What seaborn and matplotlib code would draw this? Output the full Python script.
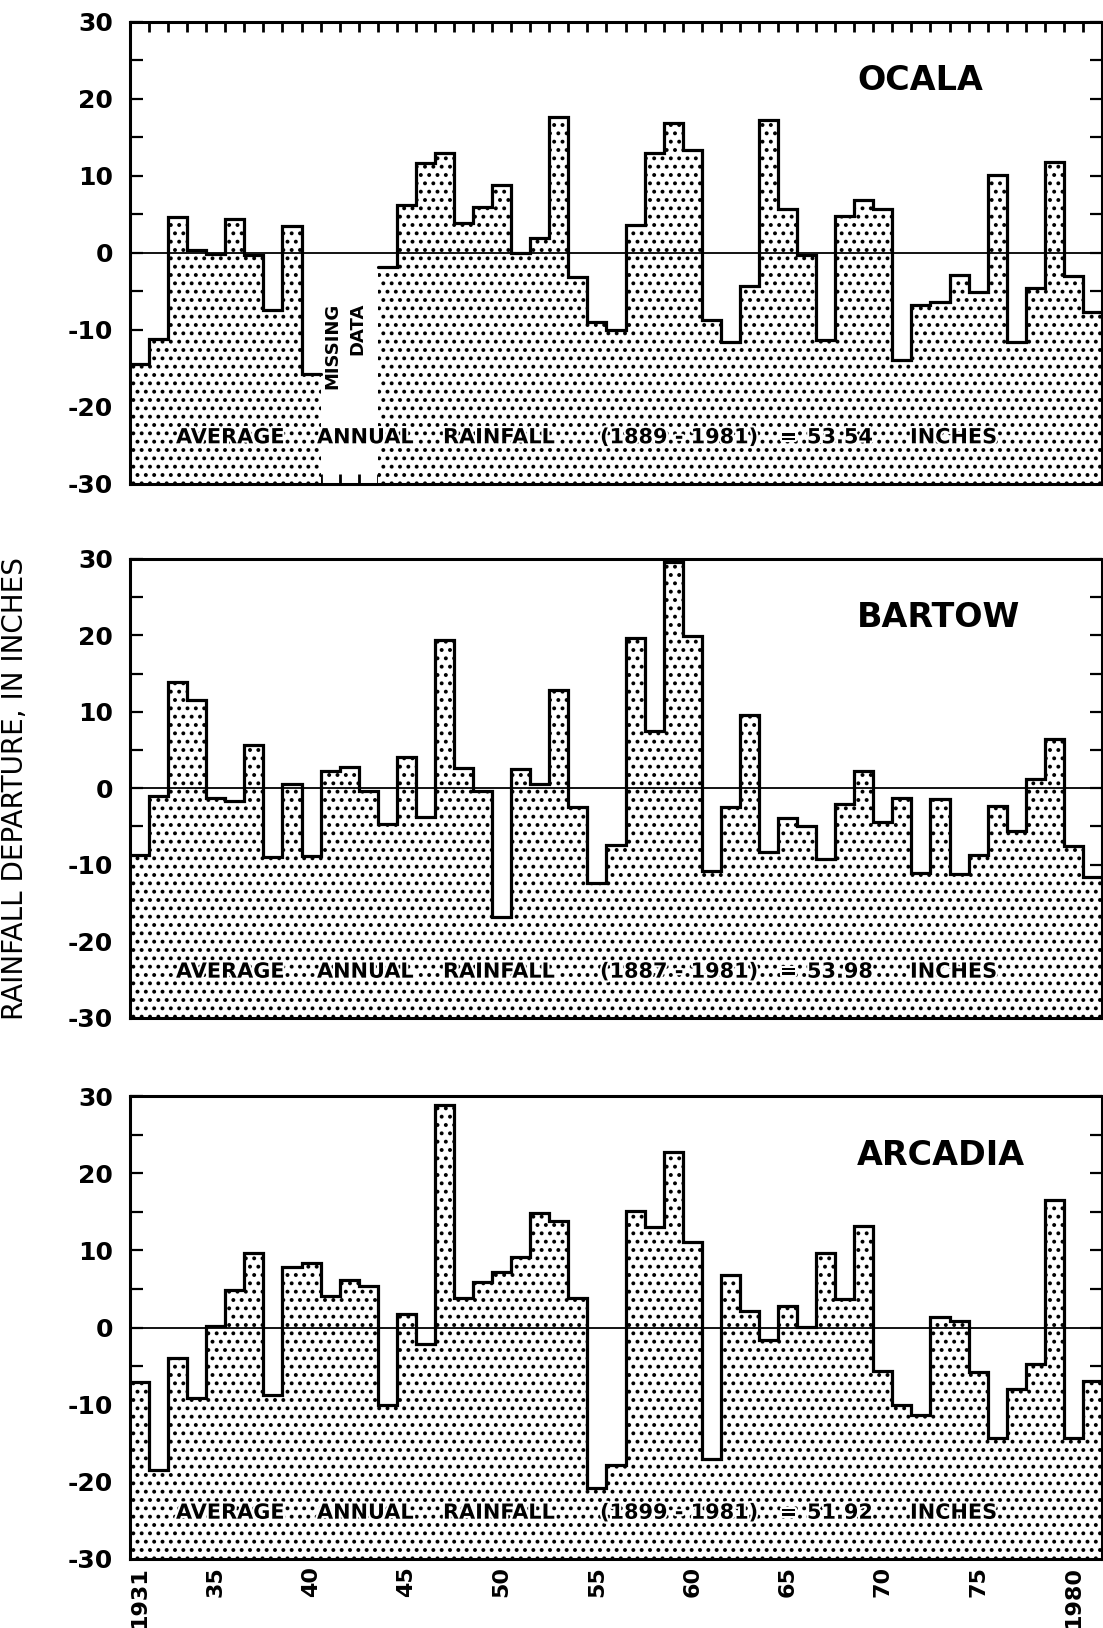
import numpy as np
import pandas as pd
import matplotlib
matplotlib.use('Agg')
import matplotlib.pyplot as plt
import matplotlib.patheffects as pe
import seaborn as sns

# %%
# annual rainfall departure (inches), 1931-1981
years = list(range(1931, 1982))
nan = np.nan

ocala = [-14.5, -11.2, 4.6, 0.3, -0.2, 4.3, -0.3, -7.5, 3.5, -15.8,
         nan, nan, nan, -1.9, 6.2, 11.6, 12.9, 3.8, 5.9, 8.8,
         0.0, 1.9, 17.6, -3.2, -9.0, -10.1, 3.6, 12.9, 16.8, 13.3,
         -8.8, -11.6, -4.3, 17.2, 5.6, -0.3, -11.4, 4.7, 6.8, 5.6,
         -14.0, -6.8, -6.4, -2.9, -5.1, 10.1, -11.6, -4.6, 11.8, -3.0, -7.7]

bartow = [-8.7, -1.0, 13.9, 11.6, -1.3, -1.7, 5.6, -9.0, 0.5, -8.9,
          2.3, 2.8, -0.4, -4.7, 4.1, -3.8, 19.4, 2.6, -0.3, -16.8,
          2.5, 0.6, 12.9, -2.5, -12.4, -7.4, 19.7, 7.5, 29.6, 19.9,
          -10.8, -2.4, 9.6, -8.3, -3.9, -5.0, -9.2, -2.1, 2.3, -4.4,
          -1.3, -11.1, -1.4, -11.2, -8.7, -2.3, -5.6, 1.2, 6.5, -7.5, -11.6]

arcadia = [-7.0, -18.5, -3.9, -9.2, 0.2, 4.9, 9.7, -8.7, 7.8, 8.4,
           4.1, 6.1, 5.4, -10.0, 1.7, -2.2, 28.8, 3.8, 5.9, 7.2,
           9.2, 14.9, 13.8, 3.8, -20.8, -17.8, 15.1, 13.0, 22.8, 11.1,
           -17.1, 6.8, 2.2, -1.6, 2.8, 0.1, 9.7, 3.7, 13.2, -5.7,
           -10.0, -11.4, 1.3, 0.8, -5.8, -14.3, -8.0, -4.7, 16.5, -14.3, -6.9]

stations = ['OCALA', 'BARTOW', 'ARCADIA']
periods = ['(1889 - 1981)', '(1887 - 1981)', '(1899 - 1981)']
averages = ['53.54', '53.98', '51.92']
xtick_years = [1931, 1935, 1940, 1945, 1950, 1955, 1960, 1965, 1970, 1975, 1980]
xtick_labels = ['1931', '35', '40', '45', '50', '55', '60', '65', '70', '75', '1980']
ytick_vals = [30, 20, 10, 0, -10, -20, -30]
ytick_labels = ['30', '20', '10', '0', '-10', '-20', '-30']

# %%
sns.set_style('ticks')
plt.rcParams['font.family'] = ['DejaVu Sans']
plt.rcParams['hatch.linewidth'] = 1.6
plt.rcParams['hatch.color'] = 'black'
for key in ['text.color', 'axes.labelcolor', 'xtick.color', 'ytick.color', 'axes.edgecolor']:
    plt.rcParams[key] = 'black'

W, H = 1103, 1628
fig = plt.figure(figsize=(W / 100, H / 100), dpi=100)

# panel boxes in pixels: (top, bottom)
boxes = [(21.5, 483.5), (559, 1017.5), (1096, 1559)]
left_px, right_px = 130, 1102
bar_px = (right_px - left_px) / len(years)

def px2x(px):
    return years[0] - 0.5 + (px - left_px) / bar_px

word_px = [176, 317, 443, 600, 780, 807, 910]

for k, vals in enumerate([ocala, bartow, arcadia]):
    top, bot = boxes[k]
    ax = fig.add_axes([left_px / W, 1 - bot / H, (right_px - left_px) / W, (bot - top) / H])
    df = pd.DataFrame({'year': years, 'dep': vals})
    df['height'] = df['dep'] + 30

    # stippled columns from the -30 floor up to the departure
    sns.barplot(data=df, x='year', y='height', native_scale=True, width=1,
                bottom=-30, color='white', edgecolor='black', hatch='..',
                linewidth=0, errorbar=None, ax=ax, zorder=1)

    # stepped outline
    edges = np.append(np.array(years) - 0.5, years[-1] + 0.5)
    ax.plot(edges, np.append(df['dep'].values, df['dep'].values[-1]),
            drawstyle='steps-post', color='black', lw=2.3, zorder=4,
            solid_joinstyle='miter')
    ax.axhline(0, color='black', lw=1.3, zorder=3)

    ax.set_xlim(years[0] - 0.5, years[-1] + 0.5)
    ax.set_ylim(-30, 30)

    # y ticks every 5 in, labels every 10
    ax.set_yticks(ytick_vals)
    ax.set_yticklabels(ytick_labels, fontsize=18, fontweight='bold')
    ax.set_yticks([-25, -15, -5, 5, 15, 25], minor=True)
    ax.tick_params(axis='y', which='both', direction='in', left=True, right=True,
                   length=9, width=1.6, pad=12)

    # x: year boundary ticks, labels at bar centres
    ax.set_xticks(np.arange(years[0] + 0.5, years[-1], 1.0), minor=True)
    ax.set_xticks(xtick_years)
    if k == 2:
        ax.set_xticklabels(xtick_labels, fontsize=16, fontweight='bold', rotation=90)
    else:
        ax.set_xticklabels([])
    ax.tick_params(axis='x', which='major', length=0, pad=5)
    ax.tick_params(axis='x', which='minor', direction='in', bottom=True,
                   top=(k == 0), length=7, width=2)
    ax.set_xlabel('')
    ax.set_ylabel('')

    for s in ax.spines.values():
        s.set_visible(True)
        s.set_linewidth(2.2)
        s.set_zorder(5)

    ax.text(px2x(857), 22.3, stations[k], fontsize=24, fontweight='bold',
            ha='left', va='center')

    words = ['AVERAGE', 'ANNUAL', 'RAINFALL', periods[k], '=', averages[k], 'INCHES']
    for w, p in zip(words, word_px):
        ax.text(px2x(p), -24.0, w, fontsize=15, fontweight='bold', ha='left',
                va='center', zorder=6,
                path_effects=[pe.withStroke(linewidth=3, foreground='white')])

    if k == 0:
        ax.text(px2x(345), -6.5, 'MISSING\nDATA', rotation=90, fontsize=13,
                fontweight='bold', ha='center', va='top', multialignment='right',
                linespacing=1.5, zorder=6)

fig.text(15 / W, 1 - 789 / H, 'RAINFALL DEPARTURE, IN INCHES', rotation=90,
         fontsize=20, ha='center', va='center')

fig.savefig('out.png', dpi=100)
